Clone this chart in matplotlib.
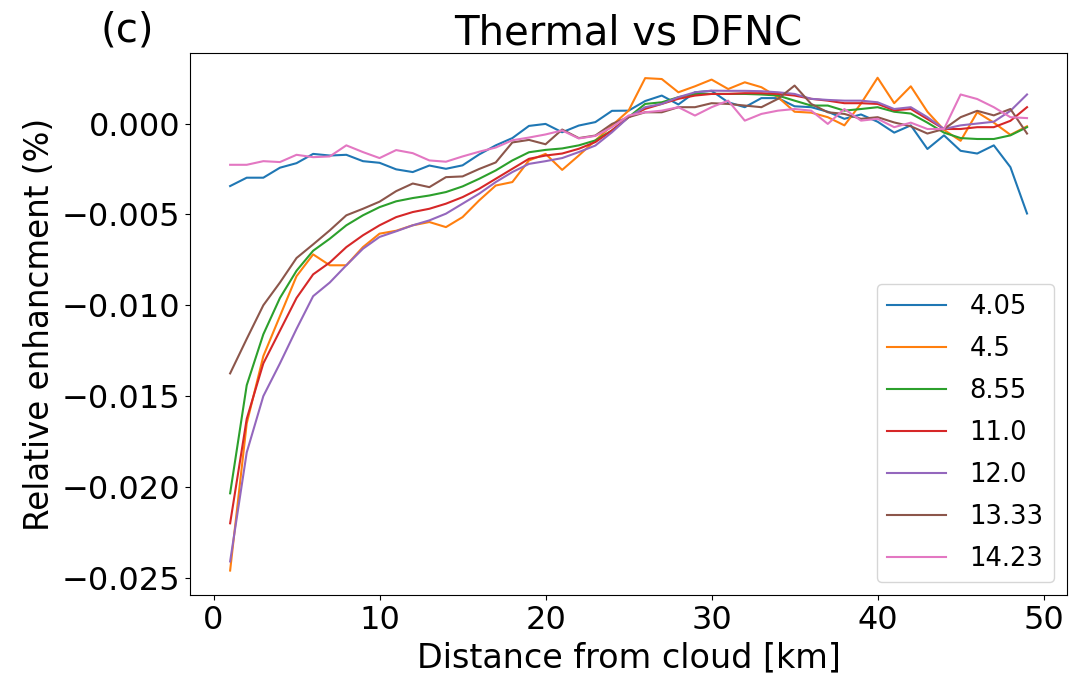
import numpy as np
import matplotlib
matplotlib.use("Agg")
import matplotlib.pyplot as plt

# distance from cloud [km]
distance = np.arange(1, 50)

# relative enhancement (%) per channel
labels = ["4.05", "4.5", "8.55", "11.0", "12.0", "13.33", "14.23"]

ch_405 = [-3.44, -2.98, -2.98, -2.43, -2.18, -1.67, -1.76, -1.72, -2.07, -2.16,
          -2.52, -2.67, -2.31, -2.49, -2.30, -1.70, -1.20, -0.80, -0.13, -0.02,
          -0.48, -0.11, 0.08, 0.70, 0.71, 1.24, 1.54, 1.05, 1.72, 1.80,
          1.17, 0.90, 1.40, 1.40, 0.95, 0.90, 0.65, 0.26, 0.50, 0.10,
          -0.50, -0.10, -1.40, -0.65, -1.50, -1.65, -1.20, -2.40, -4.95]
ch_45 = [-24.6, -16.5, -12.8, -10.6, -8.4, -7.2, -7.8, -7.8, -6.8, -6.06,
         -5.90, -5.60, -5.42, -5.70, -5.15, -4.23, -3.41, -3.22, -2.03, -1.67,
         -2.55, -1.76, -0.93, -0.11, 0.71, 2.50, 2.45, 1.72, 2.05, 2.42,
         1.90, 2.27, 2.00, 1.45, 0.65, 0.60, 0.35, -0.10, 1.10, 2.52,
         1.12, 2.05, 0.65, -0.35, -0.95, 0.62, 0.05, -0.62, -0.15]
ch_855 = [-20.35, -14.4, -11.6, -9.6, -8.1, -7.0, -6.34, -5.6, -5.05, -4.6,
          -4.28, -4.10, -3.96, -3.77, -3.46, -3.04, -2.58, -2.03, -1.58, -1.45,
          -1.37, -1.20, -0.93, -0.38, 0.35, 1.08, 1.17, 1.45, 1.63, 1.63,
          1.63, 1.63, 1.60, 1.54, 1.26, 0.99, 0.99, 0.71, 0.80, 0.90,
          0.65, 0.55, 0.05, -0.50, -0.80, -0.85, -0.85, -0.65, -0.20]
ch_110 = [-22.0, -16.25, -13.2, -11.4, -9.6, -8.3, -7.65, -6.8, -6.15, -5.6,
          -5.15, -4.87, -4.69, -4.41, -4.05, -3.59, -3.04, -2.49, -1.94, -1.76,
          -1.65, -1.39, -1.02, -0.38, 0.35, 0.81, 1.08, 1.36, 1.54, 1.63,
          1.63, 1.67, 1.67, 1.63, 1.54, 1.36, 1.26, 1.12, 1.12, 1.08,
          0.73, 0.80, 0.25, -0.30, -0.30, -0.20, -0.20, 0.15, 0.90]
ch_120 = [-24.1, -18.1, -15.0, -13.2, -11.3, -9.5, -8.75, -7.8, -6.89, -6.24,
          -5.93, -5.60, -5.33, -4.96, -4.41, -3.86, -3.22, -2.67, -2.22, -2.07,
          -1.90, -1.57, -1.21, -0.48, 0.35, 0.90, 1.08, 1.45, 1.72, 1.81,
          1.80, 1.80, 1.78, 1.72, 1.63, 1.36, 1.30, 1.26, 1.26, 1.17,
          0.80, 0.90, 0.35, -0.30, -0.10, 0.00, 0.10, 0.70, 1.60]
ch_1333 = [-13.75, -11.85, -10.0, -8.75, -7.4, -6.65, -5.88, -5.05, -4.69, -4.3,
           -3.72, -3.30, -3.50, -2.95, -2.91, -2.50, -2.14, -1.04, -0.90, -1.14,
           -0.33, -0.80, -0.66, -0.02, 0.35, 0.62, 0.62, 0.90, 0.90, 1.12,
           1.08, 0.99, 0.90, 1.36, 2.09, 1.08, 0.62, 0.53, 0.26, 0.35,
           0.06, -0.15, -0.55, -0.30, 0.35, 0.70, 0.45, 0.80, -0.55]
ch_1423 = [-2.27, -2.27, -2.07, -2.12, -1.72, -1.85, -1.81, -1.20, -1.57, -1.90,
           -1.46, -1.63, -2.03, -2.10, -1.81, -1.55, -1.32, -0.92, -0.77, -0.60,
           -0.38, -0.82, -0.68, -0.20, 0.44, 0.62, 0.71, 0.90, 0.44, 0.90,
           1.26, 0.16, 0.53, 0.71, 0.80, 0.71, -0.02, 0.80, 0.16, 0.26,
           -0.20, 0.05, -0.30, -0.30, 1.60, 1.35, 0.90, 0.35, 0.30]

series = [ch_405, ch_45, ch_855, ch_110, ch_120, ch_1333, ch_1423]

fig = plt.figure(figsize=(10.69, 6.81), dpi=100)
ax = fig.add_axes([0.178, 0.126, 0.820, 0.796])

for vals, lab in zip(series, labels):
    ax.plot(distance, np.array(vals) * 1e-3, label=lab, linewidth=1.5)

ax.set_title("Thermal vs DFNC", fontsize=29)
ax.set_xlabel("Distance from cloud [km]", fontsize=24)
ax.set_ylabel("Relative enhancment (%)", fontsize=23.5)
ax.set_yticks([0.0, -0.005, -0.010, -0.015, -0.020, -0.025])
ax.tick_params(labelsize=23)
ax.legend(loc="lower right", fontsize=18.5, handlelength=2.3,
          labelspacing=0.62, handletextpad=0.9)

fig.text(0.094, 0.955, "(c)", fontsize=29, va="center")

fig.savefig("out.png", dpi=100)
